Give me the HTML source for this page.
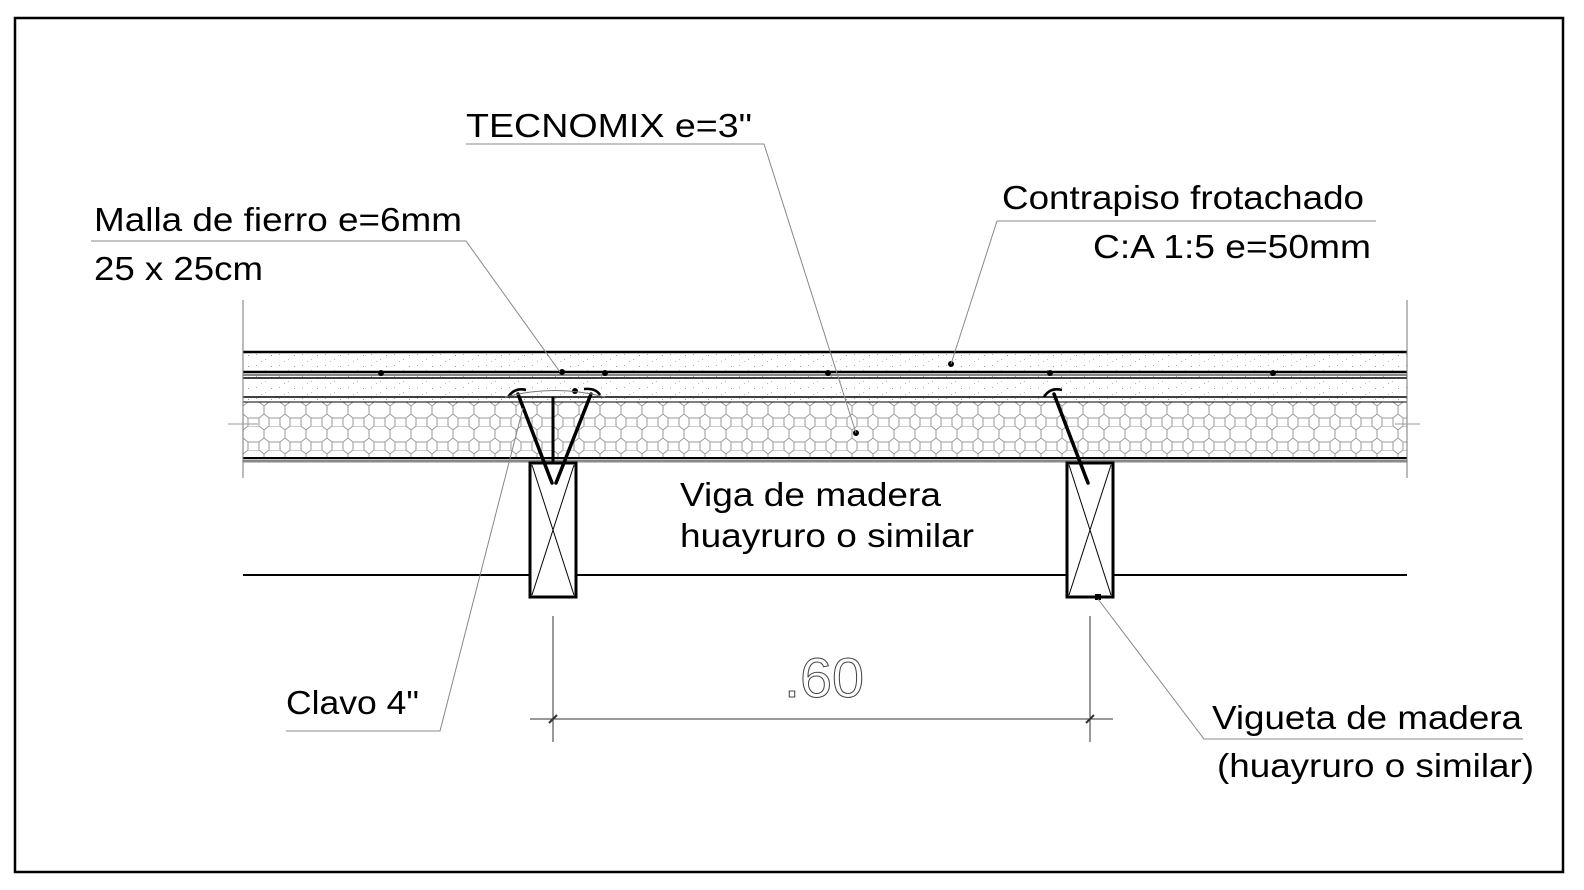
<!DOCTYPE html>
<html><head><meta charset="utf-8"><style>html,body{margin:0;padding:0;background:#fff}svg{display:block}</style></head>
<body>
<svg width="1584" height="890" viewBox="0 0 1584 890" xmlns="http://www.w3.org/2000/svg" font-family="Liberation Sans, sans-serif">
<defs>
<pattern id="hex" width="21" height="24" patternUnits="userSpaceOnUse" x="243" y="402">
<path d="M0,4 L5,0 L16,0 L21,4 M5,0 L0,-4 M16,0 L21,-4 M0,4 L0,12 L5,16 L16,16 L21,12 L21,4 M5,16 L5,24 M16,16 L16,24 M0,12 L-5,16 M21,12 L26,16" fill="none" stroke="#9a9a9a" stroke-width="1"/>
</pattern>
<pattern id="dots" width="23" height="11" patternUnits="userSpaceOnUse">
<rect x="3" y="2" width="1" height="1" fill="#aaa"/><rect x="12" y="7" width="1" height="1" fill="#bbb"/><rect x="18" y="3" width="1" height="1" fill="#999"/><rect x="8" y="9" width="1" height="1" fill="#bbb"/>
</pattern>
</defs>
<rect x="15" y="18" width="1548" height="854" fill="none" stroke="#000" stroke-width="2.5"/>

<rect x="243" y="352" width="1164" height="50" fill="url(#dots)"/>
<rect x="243" y="402" width="1164" height="56" fill="url(#hex)"/>
<line x1="243" y1="352" x2="1407" y2="352" stroke="#000" stroke-width="2.5"/>
<line x1="243" y1="372" x2="1407" y2="372" stroke="#000" stroke-width="2.5"/>
<line x1="243" y1="375" x2="1407" y2="375" stroke="#888" stroke-width="2"/>
<line x1="243" y1="378" x2="1407" y2="378" stroke="#000" stroke-width="1.5"/>
<line x1="243" y1="397" x2="1407" y2="397" stroke="#000" stroke-width="1.5"/>
<line x1="243" y1="402" x2="1407" y2="402" stroke="#000" stroke-width="1"/>
<line x1="243" y1="458" x2="1407" y2="458" stroke="#000" stroke-width="2"/>
<line x1="243" y1="461" x2="1407" y2="461" stroke="#888" stroke-width="3"/>
<line x1="243" y1="300" x2="243" y2="478" stroke="#777" stroke-width="1"/>
<line x1="1407" y1="300" x2="1407" y2="478" stroke="#777" stroke-width="1"/>
<path d="M228,424 L258,424 M1395,424 L1420,424" stroke="#999" stroke-width="1"/>
<line x1="243" y1="575" x2="1407" y2="575" stroke="#000" stroke-width="2"/>

<g fill="#000">
<circle cx="381" cy="373" r="3"/><circle cx="562" cy="372" r="3"/><circle cx="605" cy="373" r="3"/><circle cx="828" cy="373" r="3"/><circle cx="1050" cy="373" r="3"/><circle cx="1273" cy="373" r="3"/>
<circle cx="951" cy="364" r="3"/><circle cx="856" cy="433" r="3"/><circle cx="575" cy="391" r="3"/>
</g>

<g stroke="#000" fill="#fff">
<rect x="530" y="463" width="46" height="134" stroke-width="3"/>
<rect x="1067" y="463" width="46" height="134" stroke-width="3"/>
</g>
<path d="M532,465 L574,595 M574,465 L532,595 M1069,465 L1111,595 M1111,465 L1069,595" stroke="#000" stroke-width="1"/>
<rect x="1095" y="594" width="6" height="6" fill="#000"/>

<g stroke="#000" stroke-width="3.5" fill="none" stroke-linecap="round">
<line x1="518" y1="394" x2="552" y2="483"/>
<line x1="591" y1="394" x2="556" y2="483"/>
<line x1="1054" y1="394" x2="1088" y2="483"/>
</g>
<line x1="553" y1="397" x2="553" y2="463" stroke="#000" stroke-width="3"/>
<g stroke="#000" stroke-width="2.5" fill="none">
<path d="M508,397 Q515,387 526,390"/><path d="M584,389 Q596,388 600,395"/><path d="M1044,397 Q1050,387 1062,390"/>
</g>
<path d="M505,397 Q555,384 605,397" stroke="#777" stroke-width="1" fill="none"/>

<g stroke="#888" stroke-width="1" fill="none">
<path d="M466,144 L764,144 L856,433"/>
<path d="M91,241 L466,241 L560,372"/>
<path d="M1376,221 L997,221 L951,364"/>
<path d="M286,731 L440,731 L523,408"/>
<path d="M1523,739 L1204,739 L1098,599"/>
</g>

<g stroke="#333" stroke-width="1">
<line x1="553" y1="616" x2="553" y2="742"/>
<line x1="1090" y1="616" x2="1090" y2="742"/>
<line x1="530" y1="719" x2="1113" y2="719"/>
<line x1="549" y1="723" x2="557" y2="715" stroke-width="2"/>
<line x1="1086" y1="723" x2="1094" y2="715" stroke-width="2"/>
</g>
<text x="824" y="697" font-size="56" text-anchor="middle" fill="#fff" stroke="#444" stroke-width="1" textLength="80" lengthAdjust="spacingAndGlyphs">.60</text>

<g font-size="33" fill="#000">
<text x="466" y="137" textLength="286" lengthAdjust="spacingAndGlyphs">TECNOMIX e=3"</text>
<text x="94" y="231" textLength="368" lengthAdjust="spacingAndGlyphs">Malla de fierro e=6mm</text>
<text x="94" y="280" textLength="169" lengthAdjust="spacingAndGlyphs">25 x 25cm</text>
<text x="1002" y="209" textLength="362" lengthAdjust="spacingAndGlyphs">Contrapiso frotachado</text>
<text x="1093" y="258" textLength="278" lengthAdjust="spacingAndGlyphs">C:A 1:5 e=50mm</text>
<text x="680" y="506" textLength="261" lengthAdjust="spacingAndGlyphs">Viga de madera</text>
<text x="680" y="547" textLength="294" lengthAdjust="spacingAndGlyphs">huayruro o similar</text>
<text x="286" y="714" textLength="133" lengthAdjust="spacingAndGlyphs">Clavo 4"</text>
<text x="1212" y="729" textLength="310" lengthAdjust="spacingAndGlyphs">Vigueta de madera</text>
<text x="1217" y="777" textLength="317" lengthAdjust="spacingAndGlyphs">(huayruro o similar)</text>
</g>
</svg>
</body></html>
